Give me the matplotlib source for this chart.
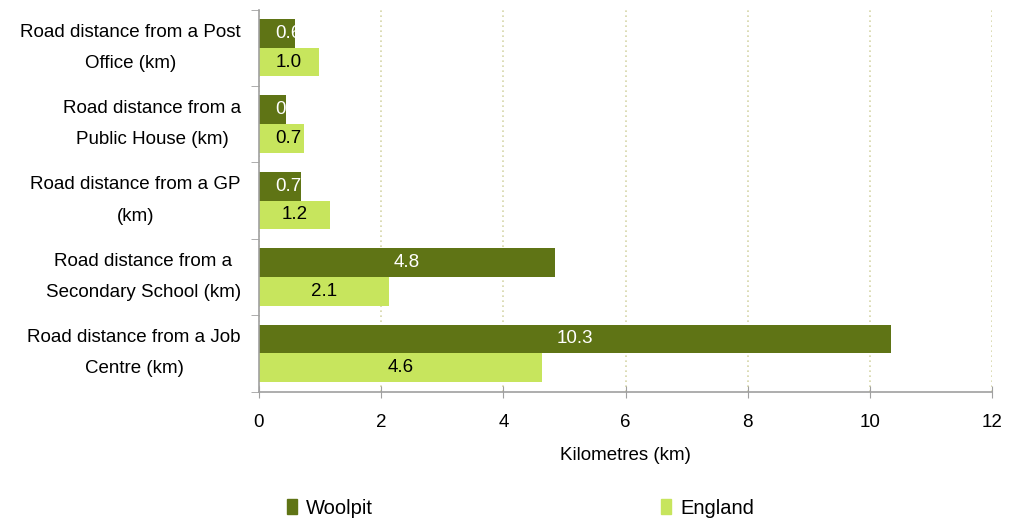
import numpy as np
import matplotlib.pyplot as plt
import matplotlib.transforms as mtransforms
from matplotlib.patches import Patch

categories = ['Road distance from a Post\nOffice (km)',
              'Road distance from a\nPublic House (km)',
              'Road distance from a GP\n(km)',
              'Road distance from a\nSecondary School (km)',
              'Road distance from a Job\nCentre (km)']
woolpit = [0.59, 0.44, 0.69, 4.84, 10.34]
england = [0.98, 0.74, 1.16, 2.13, 4.64]
series = ['Woolpit', 'England']

c_wool = '#5f7415'
c_eng = '#c7e55d'
fs = 13.5

plt.rcParams['font.family'] = ['Liberation Sans', 'DejaVu Sans']
fig = plt.figure(figsize=(10.22, 5.2), dpi=100)
ax = fig.add_axes([0.2534, 0.2471, 0.7173, 0.7346])

y = np.arange(len(categories))
h = 0.375
b1 = ax.barh(y - h / 2, woolpit, height=h, color=c_wool, zorder=2)
b2 = ax.barh(y + h / 2, england, height=h, color=c_eng, zorder=2)

ax.set_xlim(0, 12)
ax.set_ylim(len(categories) - 0.5, -0.5)

# value labels, centred but never closer than 16 px to the axis, clipped to the bar
fig.canvas.draw()
renderer = fig.canvas.get_renderer()
min_left = mtransforms.ScaledTranslation(16 / 100, 0, fig.dpi_scale_trans)
for bars, vals, col in [(b1, woolpit, 'white'), (b2, england, 'black')]:
    for bar, v in zip(bars, vals):
        yc = bar.get_y() + bar.get_height() / 2
        t = ax.text(v / 2, yc, '%.1f' % v, ha='center', va='center',
                    color=col, fontsize=fs, zorder=3)
        x0_px = ax.transData.transform((0, yc))[0]
        if t.get_window_extent(renderer).x0 - x0_px < 16:
            t.set_x(0)
            t.set_ha('left')
            t.set_transform(ax.transData + min_left)
        t.set_clip_path(bar)

ax.set_xticks(np.arange(0, 13, 2))
ax.tick_params(axis='x', labelsize=fs, direction='inout', length=8, color='#a0a0a0', pad=12)
ax.xaxis.grid(True, linestyle=(0, (1, 2)), color='#d6d6a8', linewidth=1.2, zorder=0)

# category labels as plain text so the two lines can be spaced like the original
cat_shift = mtransforms.ScaledTranslation(-18 / 100, 0, fig.dpi_scale_trans)
ax.set_yticks(y)
ax.set_yticklabels([])
for yi, cat in zip(y, categories):
    ax.text(0, yi, cat, transform=ax.get_yaxis_transform() + cat_shift,
            ha='right', va='center', multialignment='center',
            linespacing=2.1, fontsize=fs)
ax.tick_params(axis='y', which='major', length=0)
ax.set_yticks(np.arange(-0.5, len(categories)), minor=True)
ax.tick_params(axis='y', which='minor', length=6, color='#a0a0a0')

for s in ['top', 'right']:
    ax.spines[s].set_visible(False)
for s in ['left', 'bottom']:
    ax.spines[s].set_color('#a0a0a0')
    ax.spines[s].set_linewidth(1.2)

ax.set_xlabel('Kilometres (km)', fontsize=fs, labelpad=12)

handles = [Patch(color=c_wool), Patch(color=c_eng)]
fig.legend(handles, series, loc='center left', bbox_to_anchor=(0.263, 0.023),
           ncol=2, frameon=False, fontsize=14.5, handlelength=0.5, handleheight=0.75,
           handletextpad=0.45, columnspacing=14.3)

fig.savefig('out.png', dpi=100)
